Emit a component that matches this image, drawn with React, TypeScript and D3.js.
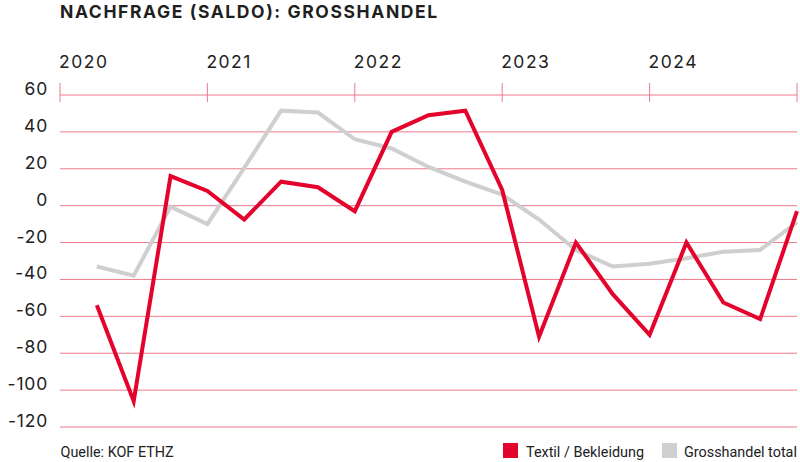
import React from "react";
import * as d3 from "d3";

const title = "NACHFRAGE (SALDO): GROSSHANDEL";
const years = ["2020", "2021", "2022", "2023", "2024"];
const yTicks = [60, 40, 20, 0, -20, -40, -60, -80, -100, -120];
// quarterly points, 2020 Q1 .. 2024 Q4 (position = quarter index + 1)
const textil = [-54, -106, 16, 8, -7.5, 13, 10, -3, 40, 49, 51.5, 8.5, -71, -20, -48, -70, -20, -52.5, -61.5, -3];
const total = [-33, -38, -0.5, -10, 20.5, 51.5, 50.5, 36, 31, 21, 13, 6, -7.5, -24, -33, -31.5, -28.5, -25, -24, -9];
const source = "Quelle: KOF ETHZ";
const legend = [
  { label: "Textil / Bekleidung", color: "#e4032c" },
  { label: "Grosshandel total", color: "#cfcfcf" },
];

const W = 800;
const H = 462;
const left = 60;
const right = 797;
const top = 95;
const bottom = 427;

export default function App() {
  const x = d3.scaleLinear().domain([0, 20]).range([left, right]);
  const y = d3.scaleLinear().domain([60, -120]).range([top, bottom]);
  const line = d3
    .line<number>()
    .x((_, i) => x(i + 1))
    .y((d) => y(d));
  const grid = "#ec7b8c";
  return (
    <svg
      width={W}
      height={H}
      style={{ position: "absolute", left: 0, top: 0, background: "#fff" }}
    >
      <text x={60} y={17.5} fontFamily="Inter" fontWeight={700} fontSize={17.5} letterSpacing={1.6} fill="#1f1f1f">
        {title}
      </text>
      {years.map((yr, i) => (
        <text key={yr} x={x(i * 4) - 1} y={68} fontFamily="Inter" fontSize={17.5} letterSpacing={1.5} fill="#222">
          {yr}
        </text>
      ))}
      {yTicks.map((t) => (
        <g key={t}>
          <line x1={left} x2={right} y1={y(t)} y2={y(t)} stroke={grid} strokeWidth={1} />
          <text x={48} y={y(t)} textAnchor="end" fontFamily="Inter" fontSize={17.5} letterSpacing={0.8} fill="#222">
            {t}
          </text>
        </g>
      ))}
      {d3.range(0, 21, 4).map((q) => (
        <line key={q} x1={x(q)} x2={x(q)} y1={83} y2={102} stroke={grid} strokeWidth={1} />
      ))}
      <path d={line(total) || ""} fill="none" stroke="#cfcfcf" strokeWidth={4} strokeLinejoin="miter" />
      <path d={line(textil) || ""} fill="none" stroke="#e4032c" strokeWidth={4} strokeLinejoin="miter" />
      <text x={60.5} y={456.7} fontFamily="Roboto" fontSize={14.4} fill="#222">
        {source}
      </text>
      <rect x={503} y={443} width={15} height={15} fill={legend[0].color} />
      <text x={526} y={456.7} fontFamily="Roboto" fontSize={14.4} fill="#222">
        {legend[0].label}
      </text>
      <rect x={662} y={443} width={15} height={15} fill={legend[1].color} />
      <text x={684} y={456.7} fontFamily="Roboto" fontSize={14.4} fill="#222">
        {legend[1].label}
      </text>
    </svg>
  );
}
